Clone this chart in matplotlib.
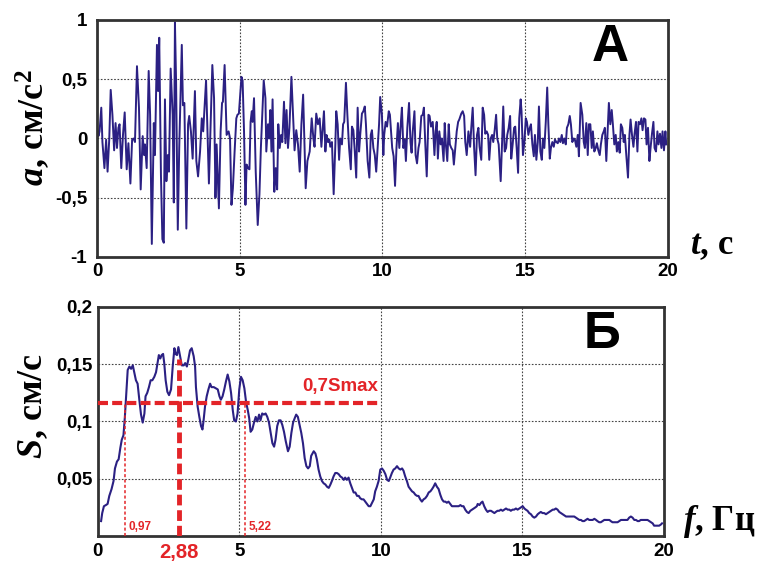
import matplotlib
matplotlib.use('Agg')
import matplotlib.pyplot as plt

# accelerogram
t_acc = [0.00, 0.05, 0.09, 0.15, 0.19, 0.26, 0.32, 0.37, 0.43, 0.48, 0.54, 0.60, 0.65, 0.70, 0.75, 0.79,
         0.85, 0.91, 0.97, 1.04, 1.10, 1.17, 1.23, 1.28, 1.33, 1.40, 1.47, 1.53, 1.60, 1.65, 1.68, 1.74,
         1.81, 1.86, 1.92, 1.99, 2.03, 2.10, 2.14, 2.18, 2.24, 2.29, 2.34, 2.38, 2.43, 2.48, 2.52, 2.58,
         2.65, 2.69, 2.73, 2.77, 2.83, 2.88, 2.97, 3.01, 3.06, 3.13, 3.19, 3.23, 3.29, 3.35, 3.43, 3.48,
         3.54, 3.61, 3.67, 3.72, 3.82, 3.92, 4.04, 4.10, 4.15, 4.19, 4.27, 4.33, 4.38, 4.41, 4.47, 4.54,
         4.61, 4.66, 4.71, 4.76, 4.82, 4.88, 4.92, 4.97, 5.06, 5.10, 5.15, 5.20, 5.24, 5.29, 5.34, 5.38,
         5.42, 5.45, 5.50, 5.56, 5.63, 5.69, 5.74, 5.84, 5.90, 5.93, 5.99, 6.03, 6.07, 6.11, 6.15, 6.21,
         6.26, 6.31, 6.35, 6.40, 6.45, 6.49, 6.55, 6.60, 6.64, 6.69, 6.74, 6.81, 6.87, 6.92, 6.98, 7.04,
         7.10, 7.16, 7.22, 7.27, 7.31, 7.37, 7.45, 7.52, 7.58, 7.62, 7.68, 7.74, 7.80, 7.86, 7.95, 8.00,
         8.04, 8.09, 8.14, 8.17, 8.23, 8.29, 8.35, 8.38, 8.43, 8.48, 8.52, 8.58, 8.62, 8.66, 8.72, 8.77,
         8.83, 8.89, 8.93, 8.98, 9.03, 9.08, 9.13, 9.18, 9.22, 9.28, 9.33, 9.38, 9.42, 9.48, 9.54, 9.59,
         9.63, 9.68, 9.73, 9.78, 9.83, 9.88, 9.92, 9.98, 10.03, 10.06, 10.11, 10.16, 10.22, 10.26, 10.31,
         10.34, 10.39, 10.44, 10.49, 10.54, 10.59, 10.64, 10.68, 10.73, 10.78, 10.82, 10.87, 10.93, 10.98,
         11.02, 11.06, 11.12, 11.16, 11.21, 11.26, 11.30, 11.36, 11.41, 11.45, 11.50, 11.55, 11.61, 11.65,
         11.70, 11.76, 11.82, 11.86, 11.90, 11.94, 11.99, 12.04, 12.08, 12.14, 12.18, 12.22, 12.27, 12.32,
         12.36, 12.41, 12.46, 12.50, 12.55, 12.60, 12.65, 12.69, 12.76, 12.81, 12.86, 12.90, 12.95, 13.01,
         13.07, 13.11, 13.16, 13.21, 13.26, 13.31, 13.36, 13.40, 13.46, 13.51, 13.56, 13.60, 13.65, 13.70,
         13.74, 13.79, 13.84, 13.88, 13.93, 13.98, 14.02, 14.07, 14.14, 14.19, 14.23, 14.28, 14.33, 14.37,
         14.42, 14.47, 14.51, 14.56, 14.61, 14.65, 14.70, 14.75, 14.79, 14.84, 14.87, 14.92, 14.97, 15.02,
         15.06, 15.11, 15.16, 15.20, 15.25, 15.30, 15.34, 15.39, 15.44, 15.48, 15.53, 15.58, 15.62, 15.67,
         15.72, 15.77, 15.81, 15.86, 15.90, 15.95, 16.00, 16.04, 16.09, 16.14, 16.18, 16.23, 16.28, 16.32,
         16.37, 16.42, 16.46, 16.51, 16.56, 16.60, 16.65, 16.70, 16.74, 16.79, 16.84, 16.88, 16.94, 17.00,
         17.05, 17.09, 17.14, 17.19, 17.23, 17.28, 17.33, 17.37, 17.42, 17.47, 17.51, 17.56, 17.61, 17.65,
         17.70, 17.75, 17.79, 17.84, 17.89, 17.93, 17.98, 18.03, 18.07, 18.12, 18.17, 18.21, 18.26, 18.31,
         18.35, 18.40, 18.45, 18.49, 18.54, 18.60, 18.65, 18.69, 18.74, 18.79, 18.83, 18.88, 18.93, 18.97,
         19.02, 19.07, 19.11, 19.16, 19.21, 19.25, 19.30, 19.35, 19.39, 19.44, 19.49, 19.53, 19.58, 19.63,
         19.67, 19.72, 19.77, 19.81, 19.86, 19.91, 19.94]
a_acc = [0.10, 0.02, 0.06, 0.26, -0.03, -0.25, -0.01, -0.28, 0.00, 0.41, 0.20, -0.10, 0.13, -0.08, 0.09, 0.12,
         -0.25, 0.03, 0.22, -0.26, -0.04, -0.38, -0.01, 0.00, -0.03, 0.61, 0.26, -0.43, 0.02, -0.14, -0.05, -0.25,
         0.57, 0.20, -0.89, 0.13, -0.14, 0.79, 0.40, 0.85, -0.31, -0.85, -0.88, 0.33, -0.36, -0.14, -0.28, 0.59,
         0.20, -0.54, 0.98, 0.48, -0.77, -0.08, 0.79, 0.28, 0.30, -0.76, 0.12, 0.19, 0.06, -0.17, 0.40, -0.19,
         -0.32, -0.11, 0.17, 0.06, 0.49, -0.38, 0.62, 0.34, -0.50, -0.05, -0.59, 0.06, 0.30, 0.31, 0.62, 0.03,
         0.06, 0.00, -0.56, -0.42, -0.11, 0.17, 0.20, 0.21, 0.52, 0.49, 0.06, -0.56, -0.22, -0.25, -0.26, 0.14,
         0.23, 0.14, 0.34, -0.28, -0.73, -0.47, -0.08, 0.49, 0.34, -0.11, 0.12, 0.00, 0.24, -0.11, 0.33, -0.45,
         -0.25, -0.43, 0.12, -0.08, 0.03, -0.03, 0.31, -0.04, 0.24, -0.08, 0.09, 0.52, 0.17, -0.10, 0.07, -0.05,
         -0.28, 0.12, 0.37, -0.08, -0.42, -0.19, -0.11, 0.17, 0.00, -0.07, 0.21, 0.12, 0.17, -0.07, 0.23, -0.11,
         0.03, -0.03, -0.01, -0.07, -0.03, -0.47, -0.04, 0.23, 0.12, -0.18, 0.00, -0.05, 0.12, 0.14, 0.47, 0.20,
         -0.08, -0.26, 0.10, 0.07, -0.11, -0.33, 0.26, -0.11, 0.03, 0.21, 0.23, 0.27, 0.12, -0.19, -0.33, 0.03,
         0.07, -0.08, -0.14, -0.28, -0.08, 0.12, 0.35, 0.20, -0.14, 0.03, 0.14, 0.10, 0.23, 0.20, 0.03,
         -0.08, -0.15, -0.40, -0.08, 0.13, -0.08, 0.12, 0.26, -0.08, -0.01, -0.19, 0.09, 0.30, -0.03,
         -0.12, 0.06, 0.23, -0.14, -0.21, -0.08, -0.03, 0.19, 0.20, 0.26, -0.05, -0.32, 0.20, 0.19,
         0.10, 0.14, -0.14, 0.06, 0.14, -0.17, 0.06, -0.05, 0.00, -0.19, 0.13, -0.05, -0.19, 0.12,
         -0.05, -0.08, -0.10, -0.22, -0.08, 0.06, 0.14, 0.16, 0.21, 0.23, 0.19, -0.03, -0.14, 0.06,
         -0.07, 0.09, 0.26, -0.08, -0.31, 0.03, 0.09, -0.07, -0.18, 0.26, 0.20, 0.04, 0.06, 0.03,
         -0.18, 0.00, 0.03, -0.03, 0.07, 0.20, 0.00, -0.05, -0.36, -0.03, 0.27, -0.11, -0.08, 0.03,
         0.09, 0.19, -0.17, -0.05, 0.09, 0.10, -0.08, -0.29, 0.17, 0.33, 0.23, -0.14, -0.03, 0.17,
         0.14, 0.03, 0.09, 0.12, -0.05, -0.15, 0.03, -0.18, -0.03, 0.27, -0.11, -0.18, 0.00, -0.08,
         0.14, 0.43, 0.12, -0.17, -0.08, -0.03, -0.07, -0.01, -0.03, -0.04, 0.00, -0.03, 0.03, -0.04,
         0.00, -0.05, 0.09, 0.12, 0.19, 0.12, -0.03, 0.00, -0.01, -0.07, 0.03, -0.15, 0.30, 0.20,
         -0.03, -0.08, 0.13, -0.14, 0.12, 0.12, -0.08, 0.06, -0.11, -0.08, -0.04, -0.10, -0.14, -0.05,
         0.03, 0.06, 0.09, -0.19, 0.09, 0.30, 0.12, 0.24, 0.12, -0.05, 0.03, -0.11, -0.03, -0.12,
         0.12, 0.09, -0.03, 0.03, -0.14, -0.33, 0.03, 0.16, 0.03, -0.07, 0.04, 0.14, -0.11, 0.14,
         0.12, 0.17, 0.07, 0.17, 0.16, -0.05, 0.09, -0.19, -0.08, 0.04, 0.14, -0.08, -0.11, 0.06,
         -0.05, 0.04, -0.08, 0.06, -0.10, 0.06, -0.05]

# Fourier spectrum
f_spec = [0.12, 0.16, 0.22, 0.29, 0.35, 0.41, 0.49, 0.56, 0.61, 0.68, 0.74, 0.80, 0.85, 0.91, 0.96, 1.01,
          1.06, 1.12, 1.18, 1.24, 1.29, 1.35, 1.41, 1.47, 1.53, 1.59, 1.65, 1.69, 1.75, 1.81, 1.87, 1.93,
          2.00, 2.06, 2.12, 2.16, 2.21, 2.26, 2.31, 2.35, 2.40, 2.46, 2.52, 2.59, 2.65, 2.71, 2.75, 2.80,
          2.85, 2.91, 2.97, 3.04, 3.09, 3.15, 3.20, 3.26, 3.32, 3.39, 3.44, 3.47, 3.53, 3.59, 3.65, 3.70,
          3.74, 3.79, 3.85, 3.91, 3.97, 4.02, 4.10, 4.17, 4.24, 4.30, 4.35, 4.41, 4.47, 4.53, 4.59, 4.65,
          4.71, 4.77, 4.82, 4.88, 4.94, 5.00, 5.06, 5.12, 5.18, 5.24, 5.30, 5.35, 5.40, 5.46, 5.52, 5.58,
          5.64, 5.70, 5.75, 5.81, 5.87, 5.93, 5.99, 6.05, 6.11, 6.17, 6.23, 6.28, 6.34, 6.40, 6.46, 6.52,
          6.58, 6.64, 6.72, 6.78, 6.84, 6.90, 6.96, 7.01, 7.07, 7.13, 7.19, 7.25, 7.31, 7.37, 7.43, 7.49,
          7.54, 7.63, 7.69, 7.74, 7.80, 7.86, 7.92, 7.98, 8.04, 8.10, 8.16, 8.22, 8.27, 8.33, 8.39, 8.45,
          8.51, 8.57, 8.63, 8.69, 8.74, 8.80, 8.86, 8.92, 8.98, 9.04, 9.10, 9.16, 9.22, 9.27, 9.33, 9.39,
          9.45, 9.51, 9.57, 9.63, 9.69, 9.75, 9.80, 9.86, 9.92, 9.98, 10.04, 10.10, 10.16, 10.22, 10.28,
          10.33, 10.39, 10.45, 10.51, 10.57, 10.63, 10.69, 10.75, 10.80, 10.86, 10.92, 10.98, 11.04, 11.10,
          11.16, 11.22, 11.28, 11.33, 11.39, 11.45, 11.51, 11.57, 11.63, 11.69, 11.75, 11.81, 11.86, 11.92,
          11.98, 12.04, 12.10, 12.16, 12.22, 12.28, 12.33, 12.39, 12.45, 12.51, 12.57, 12.63, 12.69, 12.75,
          12.81, 12.86, 12.92, 12.98, 13.04, 13.10, 13.16, 13.22, 13.28, 13.34, 13.39, 13.42, 13.48, 13.54,
          13.59, 13.65, 13.71, 13.77, 13.83, 13.89, 13.95, 14.01, 14.06, 14.12, 14.18, 14.24, 14.30, 14.36,
          14.42, 14.48, 14.54, 14.59, 14.65, 14.71, 14.77, 14.83, 14.89, 14.95, 15.01, 15.07, 15.12, 15.18,
          15.24, 15.30, 15.36, 15.42, 15.48, 15.54, 15.59, 15.65, 15.71, 15.77, 15.83, 15.89, 15.95, 16.01,
          16.07, 16.12, 16.18, 16.24, 16.30, 16.36, 16.42, 16.48, 16.54, 16.60, 16.65, 16.71, 16.77, 16.83,
          16.89, 16.95, 17.01, 17.07, 17.12, 17.18, 17.24, 17.30, 17.36, 17.42, 17.48, 17.54, 17.60, 17.65,
          17.71, 17.77, 17.83, 17.89, 17.95, 18.01, 18.07, 18.12, 18.18, 18.24, 18.30, 18.36, 18.42, 18.48,
          18.54, 18.60, 18.65, 18.71, 18.77, 18.83, 18.89, 18.95, 19.01, 19.07, 19.12, 19.18, 19.24, 19.30,
          19.36, 19.42, 19.48, 19.54, 19.60, 19.65, 19.71, 19.77, 19.83, 19.89, 19.93]
s_spec = [0.013, 0.020, 0.026, 0.027, 0.028, 0.035, 0.041, 0.048, 0.059, 0.065, 0.067, 0.077, 0.084, 0.088, 0.104, 0.125,
          0.145, 0.148, 0.146, 0.149, 0.143, 0.136, 0.133, 0.119, 0.106, 0.099, 0.107, 0.122, 0.125, 0.130, 0.136, 0.136,
          0.139, 0.143, 0.152, 0.158, 0.155, 0.158, 0.159, 0.151, 0.136, 0.126, 0.123, 0.128, 0.148, 0.164, 0.159, 0.158,
          0.165, 0.157, 0.149, 0.149, 0.151, 0.148, 0.154, 0.162, 0.164, 0.157, 0.148, 0.130, 0.113, 0.104, 0.096, 0.093,
          0.101, 0.113, 0.122, 0.128, 0.133, 0.130, 0.130, 0.129, 0.128, 0.122, 0.119, 0.122, 0.128, 0.135, 0.141, 0.135,
          0.125, 0.110, 0.101, 0.100, 0.107, 0.128, 0.139, 0.136, 0.129, 0.117, 0.110, 0.103, 0.091, 0.093, 0.099, 0.104,
          0.100, 0.106, 0.101, 0.107, 0.106, 0.107, 0.104, 0.099, 0.090, 0.081, 0.078, 0.084, 0.096, 0.101, 0.101, 0.097,
          0.091, 0.083, 0.074, 0.078, 0.090, 0.099, 0.103, 0.106, 0.104, 0.097, 0.090, 0.081, 0.068, 0.061, 0.059, 0.061,
          0.070, 0.074, 0.072, 0.067, 0.058, 0.052, 0.048, 0.046, 0.045, 0.043, 0.042, 0.045, 0.048, 0.052, 0.055, 0.055,
          0.054, 0.052, 0.051, 0.049, 0.051, 0.049, 0.051, 0.046, 0.042, 0.038, 0.038, 0.035, 0.035, 0.033, 0.032, 0.032,
          0.030, 0.028, 0.026, 0.026, 0.029, 0.032, 0.039, 0.043, 0.048, 0.058, 0.059, 0.057, 0.054, 0.049, 0.048,
          0.051, 0.055, 0.058, 0.059, 0.061, 0.059, 0.058, 0.059, 0.057, 0.052, 0.048, 0.043, 0.041, 0.039,
          0.038, 0.036, 0.035, 0.035, 0.032, 0.030, 0.032, 0.033, 0.035, 0.038, 0.039, 0.041, 0.043, 0.046,
          0.043, 0.041, 0.036, 0.032, 0.030, 0.030, 0.029, 0.030, 0.028, 0.026, 0.026, 0.026, 0.026, 0.026,
          0.027, 0.026, 0.026, 0.023, 0.021, 0.020, 0.022, 0.023, 0.024, 0.025, 0.026, 0.028, 0.027, 0.029,
          0.030, 0.026, 0.023, 0.021, 0.022, 0.022, 0.021, 0.020, 0.021, 0.022, 0.022, 0.023, 0.022, 0.023,
          0.024, 0.023, 0.023, 0.022, 0.023, 0.023, 0.024, 0.023, 0.024, 0.025, 0.026, 0.024, 0.023, 0.022,
          0.020, 0.019, 0.017, 0.016, 0.017, 0.019, 0.020, 0.021, 0.020, 0.020, 0.019, 0.020, 0.021, 0.022,
          0.023, 0.023, 0.024, 0.023, 0.021, 0.020, 0.019, 0.018, 0.017, 0.017, 0.017, 0.017, 0.017, 0.017,
          0.016, 0.015, 0.014, 0.014, 0.013, 0.013, 0.014, 0.015, 0.014, 0.014, 0.014, 0.015, 0.014, 0.013,
          0.012, 0.012, 0.013, 0.014, 0.014, 0.014, 0.014, 0.013, 0.012, 0.012, 0.012, 0.012, 0.013, 0.014,
          0.014, 0.014, 0.014, 0.014, 0.016, 0.017, 0.016, 0.014, 0.014, 0.013, 0.013, 0.014, 0.014, 0.014,
          0.014, 0.014, 0.013, 0.012, 0.011, 0.009, 0.009, 0.009, 0.009, 0.010, 0.011]

# marked frequencies on the spectrum
s_level = 0.116      # 0.7*Smax
f_peak, s_peak = 2.88, 0.155
f_low, f_high = 0.97, 5.22

acc_yticks = [-1, -0.5, 0, 0.5, 1]
acc_ylabels = ['-1', '-0,5', '0', '0,5', '1']
spec_yticks = [0.05, 0.1, 0.15, 0.2]
spec_ylabels = ['0,05', '0,1', '0,15', '0,2']
xticks = [0, 5, 10, 15, 20]
xlabels = ['0', '5', '10', '15', '20']

line_col = '#2b2083'
red = '#e32428'
tick_fs = 13.5

plt.rcParams['mathtext.fontset'] = 'custom'
plt.rcParams['mathtext.it'] = 'Liberation Serif:italic:bold'
plt.rcParams['mathtext.rm'] = 'Liberation Serif:bold'
plt.rcParams['mathtext.bf'] = 'Liberation Serif:bold'

fig = plt.figure(figsize=(7.62, 5.61), dpi=100)
ax1 = fig.add_axes([0.1273, 0.5419, 0.7493, 0.4225])
ax2 = fig.add_axes([0.1282, 0.0446, 0.7432, 0.4082])

for ax in (ax1, ax2):
    for sp in ax.spines.values():
        sp.set_linewidth(2)
        sp.set_color('#333333')
    ax.set_xlim(0, 20)
    ax.set_xticks(xticks)
    ax.set_xticklabels(xlabels)
    ax.grid(True, which='major', color='#444444', linestyle=(0, (1.5, 1.5)), linewidth=0.8)
    ax.set_axisbelow(True)
    for lab in ax.get_xticklabels():
        lab.set_fontfamily('Liberation Sans')
        lab.set_fontweight('bold')
        lab.set_fontsize(tick_fs)

# top: accelerogram
ax1.plot(t_acc, a_acc, color=line_col, linewidth=1.4)
ax1.set_ylim(-1, 1)
ax1.set_yticks(acc_yticks)
ax1.set_yticklabels(acc_ylabels, fontfamily='Liberation Sans', fontweight='bold', fontsize=tick_fs)
ax1.tick_params(axis='both', length=0)
ax1.tick_params(axis='x', pad=4)
ax1.tick_params(axis='y', pad=7)

# bottom: spectrum
ax2.plot(f_spec, s_spec, color=line_col, linewidth=1.5, zorder=3)
ax2.set_ylim(0, 0.2)
ax2.set_yticks(spec_yticks)
ax2.set_yticklabels(spec_ylabels, fontfamily='Liberation Sans', fontweight='bold', fontsize=tick_fs)
ax2.set_xticks([f_peak], minor=True)
ax2.set_xticklabels(['2,88'], minor=True, color=red, fontfamily='Liberation Sans',
                    fontweight='bold', fontsize=14.5)
ax2.tick_params(axis='both', which='both', length=0)
ax2.tick_params(axis='x', which='both', pad=5)
ax2.tick_params(axis='y', pad=4)

ax2.plot([0, 10], [s_level, s_level], color=red, linewidth=3, dashes=(2.4, 1.0), zorder=4)
ax2.plot([f_peak, f_peak], [0, s_peak], color=red, linewidth=3.5, dashes=(2.2, 1.0), zorder=4)
for fx in (f_low, f_high):
    ax2.plot([fx, fx], [0, s_level], color=red, linewidth=1.1, dashes=(2, 1.5), zorder=4)
ax2.text(f_low + 0.12, 0.008, '0,97', color=red, fontsize=8.5, fontweight='bold',
         fontfamily='Liberation Sans', ha='left', va='center')
ax2.text(f_high + 0.12, 0.008, '5,22', color=red, fontsize=8.5, fontweight='bold',
         fontfamily='Liberation Sans', ha='left', va='center')
ax2.text(8.55, 0.127, '0,7Smax', color=red, fontsize=13.5, fontweight='bold',
         fontfamily='Liberation Sans', ha='center', va='baseline')

# panel letters
fig.text(0.8005, 0.916, 'А', fontsize=37, fontweight='bold', fontfamily='Liberation Sans',
         ha='center', va='center')
fig.text(0.790, 0.403, 'Б', fontsize=37, fontweight='bold', fontfamily='Liberation Sans',
         ha='center', va='center')

# axis labels
fig.text(0.043, 0.772, r'$a$, см/с$^2$', rotation=90, fontsize=26, fontfamily='Liberation Serif',
         fontweight='bold', ha='center', va='center')
fig.text(0.043, 0.276, r'$S$, см/с', rotation=90, fontsize=26, fontfamily='Liberation Serif',
         fontweight='bold', ha='center', va='center')
fig.text(0.9055, 0.547, r'$t$, с', fontsize=25, fontfamily='Liberation Serif',
         fontweight='bold', ha='left', va='baseline')
fig.text(0.896, 0.055, r'$f$, Гц', fontsize=25, fontfamily='Liberation Serif',
         fontweight='bold', ha='left', va='baseline')

fig.savefig('out.png', dpi=100)
